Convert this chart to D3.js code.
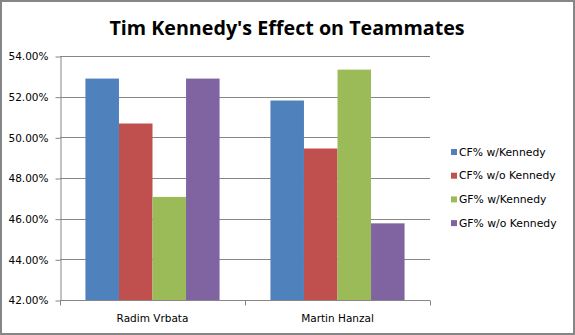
<!DOCTYPE html>
<html>
<head>
<meta charset="utf-8">
<script src="https://cdn.jsdelivr.net/npm/d3@7/dist/d3.min.js"></script>
<style>
  html, body { margin: 0; padding: 0; background: #fff; }
  svg { display: block; }
</style>
</head>
<body>
<svg id="chart" width="575" height="335"></svg>
<script>
// Players and the four on/off-ice shot and goal shares
const players = ["Radim Vrbata", "Martin Hanzal"];
const seriesNames = ["CF% w/Kennedy", "CF% w/o Kennedy", "GF% w/Kennedy", "GF% w/o Kennedy"];
const cfWith    = [52.89, 51.81];
const cfWithout = [50.68, 49.45];
const gfWith    = [47.07, 53.33];
const gfWithout = [52.89, 45.77];
const colors = ["#4f81bd", "#c0504d", "#9bbb59", "#8064a2"];
const yTicks = [42, 44, 46, 48, 50, 52, 54];

const seriesValues = [cfWith, cfWithout, gfWith, gfWithout];

const svg = d3.select("#chart");
const W = 575, H = 335;
const plot = { left: 60, right: 430, top: 56, bottom: 300 };
const labelFont = "'DejaVu Sans', Verdana, sans-serif";

// outer frame
svg.append("rect")
  .attr("x", 1).attr("y", 1).attr("width", W - 2).attr("height", H - 2)
  .attr("fill", "#fff").attr("stroke", "#868686").attr("stroke-width", 2);

// title
svg.append("text")
  .attr("x", 287).attr("y", 35)
  .attr("text-anchor", "middle")
  .attr("font-family", "'Open Sans', 'Liberation Sans', sans-serif")
  .attr("font-weight", "bold")
  .attr("font-size", 19.7)
  .attr("fill", "#000")
  .text("Tim Kennedy's Effect on Teammates");

const y = d3.scaleLinear().domain([42, 54]).range([plot.bottom, plot.top]);
const x0 = d3.scaleBand().domain(players).range([plot.left, plot.right]).paddingInner(0.275).paddingOuter(0.1375);
const x1 = d3.scaleBand().domain(d3.range(seriesNames.length)).range([0, x0.bandwidth()]);

// horizontal gridlines
svg.append("g")
  .selectAll("line")
  .data(yTicks.filter(t => t > 42))
  .join("line")
  .attr("x1", plot.left).attr("x2", plot.right)
  .attr("y1", d => Math.round(y(d)) + 0.5).attr("y2", d => Math.round(y(d)) + 0.5)
  .attr("stroke", "#868686").attr("stroke-width", 1);

// bars
const groups = svg.append("g")
  .selectAll("g")
  .data(players)
  .join("g")
  .attr("transform", d => `translate(${x0(d)},0)`);

groups.selectAll("rect")
  .data((p, pi) => seriesValues.map((vals, si) => ({ si, v: vals[pi] })))
  .join("rect")
  .attr("x", d => x1(d.si))
  .attr("width", x1.bandwidth())
  .attr("y", d => y(d.v))
  .attr("height", d => y(42) - y(d.v))
  .attr("fill", d => colors[d.si]);

// y axis
const yAxis = svg.append("g")
  .attr("transform", `translate(${plot.left + 0.5},0.5)`)
  .call(d3.axisLeft(y).tickValues(yTicks).tickSize(5).tickSizeOuter(0)
    .tickFormat(d => d.toFixed(2) + "%"));
yAxis.selectAll("path, line").attr("stroke", "#868686");
yAxis.selectAll("text")
  .attr("font-family", labelFont).attr("font-size", 10.5).attr("fill", "#000")
  .attr("x", -12);

// x axis with category boundary ticks
const xAxisG = svg.append("g").attr("transform", `translate(0,${plot.bottom + 0.5})`);
xAxisG.append("line")
  .attr("x1", plot.left).attr("x2", plot.right)
  .attr("stroke", "#868686");
const bounds = [plot.left, plot.left + (plot.right - plot.left) / 2, plot.right];
xAxisG.selectAll("line.tk")
  .data(bounds)
  .join("line").attr("class", "tk")
  .attr("x1", d => Math.round(d) + 0.5).attr("x2", d => Math.round(d) + 0.5)
  .attr("y1", 0).attr("y2", 5)
  .attr("stroke", "#868686");
xAxisG.selectAll("text")
  .data(players)
  .join("text")
  .attr("x", d => x0(d) + x0.bandwidth() / 2)
  .attr("y", 21)
  .attr("text-anchor", "middle")
  .attr("font-family", labelFont).attr("font-size", 10.5).attr("fill", "#000")
  .text(d => d);

// legend
const legend = svg.append("g")
  .selectAll("g")
  .data(seriesNames)
  .join("g")
  .attr("transform", (d, i) => `translate(451,${149 + i * 23.7})`);
legend.append("rect")
  .attr("width", 6).attr("height", 6)
  .attr("fill", (d, i) => colors[i]);
legend.append("text")
  .attr("x", 8).attr("y", 6.5)
  .attr("font-family", labelFont).attr("font-size", 10.8).attr("fill", "#000")
  .text(d => d);
</script>
</body>
</html>
